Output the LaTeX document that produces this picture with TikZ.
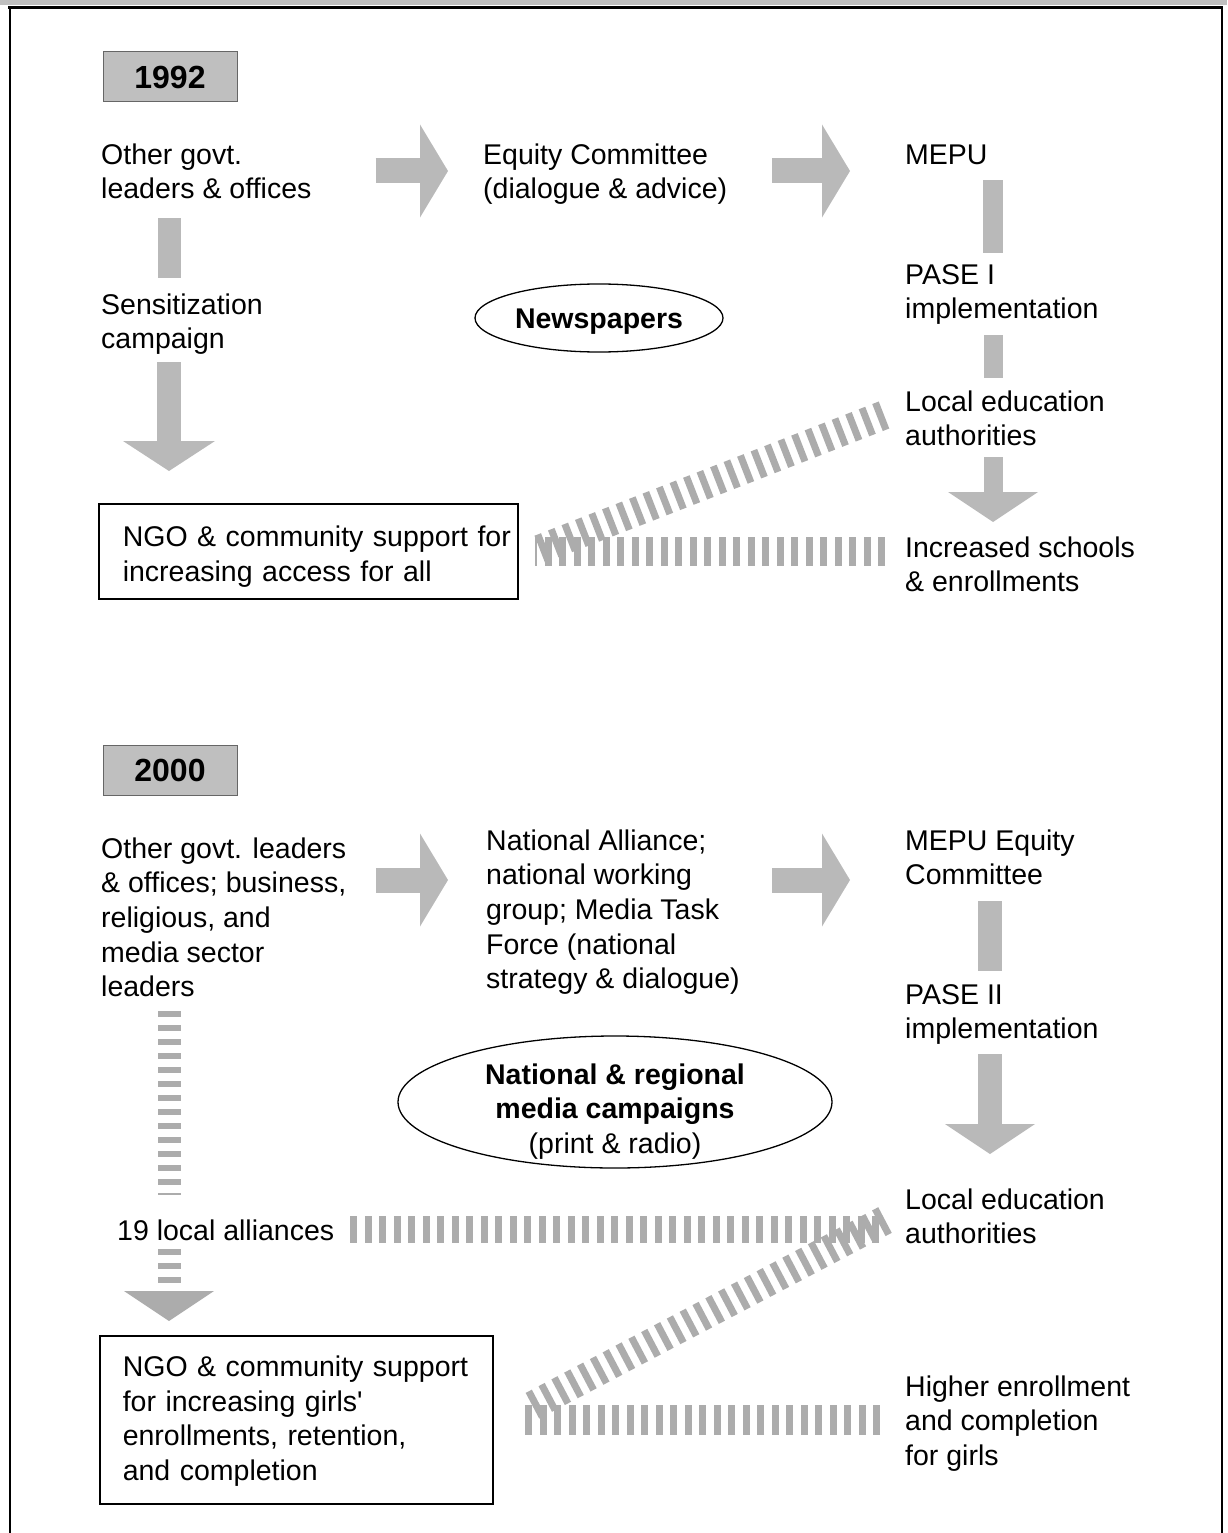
\documentclass[tikz,border=0pt]{standalone}
\usepackage{fontspec}
\setmainfont{Liberation Sans}
\usetikzlibrary{shapes.geometric,arrows.meta,calc}
\newcommand\dfont{\fontsize{28.5pt}{34.6pt}\selectfont}
\newcommand\yfont{\fontsize{32pt}{36pt}\selectfont\bfseries}
\newcommand\firstln{\rule{0pt}{23pt}}
\newcommand\lastln{\rule[-8pt]{0pt}{8pt}}
\begin{document}
\begin{tikzpicture}[x=1pt,y=-1pt,
  txt/.style={anchor=north west,inner sep=0pt,align=left,font=\dfont},
  box/.style={draw,line width=1.6pt,anchor=north west,inner ysep=0pt,align=left,font=\dfont},
  yearbox/.style={draw=gray!80!black,line width=1pt,fill=gray!50,minimum width=134pt,minimum height=50pt,inner sep=0pt,font=\yfont},
  ellip/.style={ellipse,draw,line width=1.3pt,inner sep=0pt},
  harrow/.style={gray!55,line width=25pt,-{Triangle[width=93pt,length=28pt,line width=0pt]}},
  varrow/.style={gray!55,line width=22pt,-{Triangle[width=90pt,length=30pt,line width=0pt]}},
  vshaft/.style={gray!55,line width=20pt},
  band/.style={gray!65,line width=29pt,dash pattern=on 7pt off 7.5pt},
  vband/.style={gray!65,line width=23pt,dash pattern=on 6pt off 8pt},
]
\useasboundingbox (0,0) rectangle (1227,1533);
% frame
\fill[gray!50] (0,0) rectangle (1227,5);
\draw[line width=3pt] (8,7.5) -- (1223,7.5);
\draw[line width=2.5pt] (10,7.5) -- (10,1533);
\draw[line width=2.5pt] (1222,7.5) -- (1222,1533);

% lanes
\coordinate (rowA) at (0,171);
\coordinate (rowB) at (0,880);
\coordinate (laneA) at (0,551);
\coordinate (laneC) at (0,1229);
\coordinate (laneD) at (0,1420);
\coordinate (colL) at (169,0);
\coordinate (colR1) at (993,0);
\coordinate (colR2) at (990,0);

% ===== 1992 =====
\node[yearbox] (y1992) at (170,77) {1992};
\node[txt] (ogl1) at (101,141) {\firstln Other govt.\\leaders \& offices\lastln};
\node[txt] (eq1) at (483,141) {\firstln Equity Committee\\(dialogue \& advice)\lastln};
\node[txt] (mepu1) at (905,141) {\firstln MEPU\lastln};
\node[txt] (pase1) at (905,261) {\firstln PASE I\\implementation\lastln};
\node[txt] (lea1) at (905,388) {\firstln Local education\\authorities\lastln};
\node[txt] (inc1) at (905,534) {\firstln Increased schools\\\& enrollments\lastln};
\node[txt] (sens1) at (101,291) {\firstln Sensitization\\campaign\lastln};
\node[box,inner xsep=24pt,text width=371pt,minimum height=95pt] (ngo1) at (98,503)
  {\mbox{\rule{0pt}{33pt}NGO \& community support for}\\\mbox{increasing access for all\lastln}};
\node[ellip,minimum width=248pt,minimum height=68pt,font=\dfont\bfseries] (news) at (599,318) {\raisebox{-10pt}[0pt][0pt]{Newspapers}};

\draw[harrow,shorten <=64pt,shorten >=35pt] (ogl1.east |- rowA) -- (eq1.west |- rowA);
\draw[harrow,shorten <=45pt,shorten >=55pt] (eq1.east |- rowA) -- (mepu1.west |- rowA);
\draw[vshaft,shorten <=8pt,shorten >=8pt] (mepu1.south -| colR1) -- (pase1.north -| colR1);
\draw[vshaft,line width=19pt,shorten <=8.4pt,shorten >=10pt] (pase1.south -| colR1) -- (lea1.north -| colR1);
\draw[varrow,line width=19pt,shorten <=3.4pt,shorten >=12pt] (lea1.south -| colR1) -- (inc1.north -| colR1);
\draw[vshaft,line width=23pt,shorten <=11.4pt,shorten >=13pt] (ogl1.south -| colL) -- (sens1.north -| colL);
\draw[varrow,line width=24pt,-{Triangle[width=92pt,length=30pt,line width=0pt]},shorten <=5.4pt,shorten >=32pt] (sens1.south -| colL) -- (ngo1.north -| colL);
\draw[band,shorten <=20pt,shorten >=16pt] (inc1.west |- laneA) -- (ngo1.east |- laneA);
\draw[band] ($(lea1.west)+(-21,-6)$) -- ($(ngo1.east)+(21,-2)$);

% ===== 2000 =====
\node[yearbox] (y2000) at (170,770) {2000};
\node[txt] (ogl2) at (101,835) {\firstln Other govt. leaders\\\& offices; business,\\religious, and\\media sector\\leaders\lastln};
\node[txt] (nat2) at (486,827) {\firstln National Alliance;\\national working\\group; Media Task\\Force (national\\strategy \& dialogue)\lastln};
\node[txt] (mepu2) at (905,827) {\firstln MEPU Equity\\Committee\lastln};
\node[txt] (pase2) at (905,981) {\firstln PASE II\\implementation\lastln};
\node[txt] (lea2) at (905,1186) {\firstln Local education\\authorities\lastln};
\node[txt] (hi2) at (905,1373) {\firstln Higher enrollment\\and completion\\for girls\lastln};
\node[txt] (loc19) at (117,1217) {\firstln 19 local alliances\lastln};
\node[box,inner xsep=23pt,text width=347pt,minimum height=168pt] (ngo2) at (99,1335)
  {\mbox{\rule{0pt}{25pt}NGO \& community support}\\\mbox{for increasing girls\textquotesingle}\\\mbox{enrollments, retention,}\\\mbox{and completion\lastln}};
\node[ellip,minimum width=434pt,minimum height=132pt,font=\dfont] (media) at (615,1102)
  {\raisebox{-16pt}[0pt][0pt]{\begin{tabular}{@{}c@{}}\textbf{National \& regional}\\\textbf{media campaigns}\\(print \& radio)\end{tabular}}};

\draw[harrow,shorten <=29.5pt,shorten >=38pt] (ogl2.east |- rowB) -- (nat2.west |- rowB);
\draw[harrow,shorten <=32.6pt,shorten >=55pt] (nat2.east |- rowB) -- (mepu2.west |- rowB);
\draw[vshaft,line width=24pt,shorten <=8.4pt,shorten >=10pt] (mepu2.south -| colR2) -- (pase2.north -| colR2);
\draw[varrow,line width=24pt,shorten <=7.4pt,shorten >=32pt] (pase2.south -| colR2) -- (lea2.north -| colR2);
\draw[vband,shorten <=6.6pt,shorten >=22pt] (ogl2.south -| colL) -- (loc19.north -| colL);
\draw[vband,-{Triangle[width=90pt,length=30pt,line width=0pt]},shorten <=1pt,shorten >=14pt] (loc19.south -| colL) -- (ngo2.north -| colL);
\draw[band,line width=27pt,shorten <=16pt,shorten >=20pt] (loc19.east |- laneC) -- (lea2.west |- laneC);
\draw[band] ($(lea2.west)+(-20,1)$) -- ($(ngo2.east)+(33,-11)$);
\draw[band,line width=30pt,shorten <=25pt,shorten >=30pt] (hi2.west |- laneD) -- (ngo2.east |- laneD);
\end{tikzpicture}
\end{document}
